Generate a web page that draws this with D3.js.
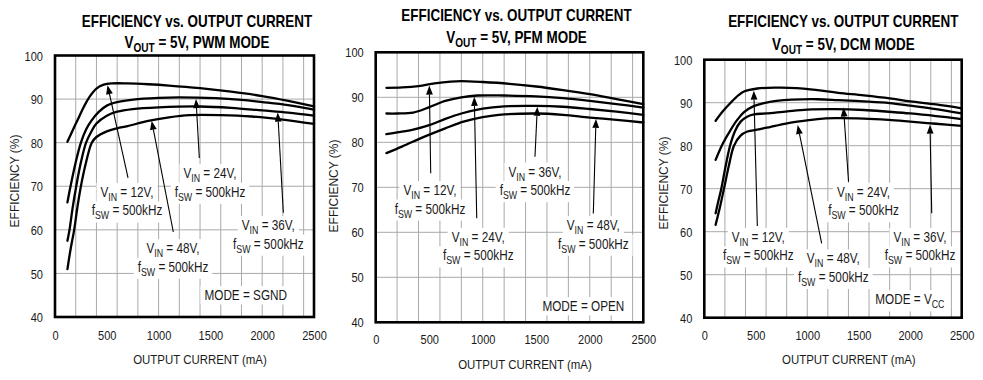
<!DOCTYPE html>
<html><head><meta charset="utf-8">
<script src="https://cdn.jsdelivr.net/npm/d3@7/dist/d3.min.js"></script>
<style>body{margin:0;background:#fff}svg{display:block}</style>
</head><body>
<svg id="c" width="983" height="380"></svg>
<script>
// ---------------- data ----------------
const currentTicks = [0, 500, 1000, 1500, 2000, 2500];
const efficiencyTicks = [40, 50, 60, 70, 80, 90, 100];
const gridCurrents = [200, 400, 600, 800, 1000, 1200, 1400, 1600, 1800, 2000, 2200, 2400];
const vinLabels = ["12V", "24V", "36V", "48V"];
const modeNames = ["PWM", "PFM", "DCM"];
const modePins = ["SGND", "OPEN", "VCC"];

// PWM mode (MODE = SGND): [output current mA, efficiency %]
const pwm12 = [[120,80.2],[170,82.8],[230,85.8],[280,88.3],[330,90.4],[400,92.4],[470,93.3],[550,93.6],[700,93.6],[900,93.4],[1100,93.1],[1400,92.5],[1700,91.7],[2000,90.7],[2250,89.6],[2500,88.3]];
const pwm24 = [[120,66.3],[150,70],[200,75.5],[250,80],[300,83],[350,85],[420,87],[500,88.5],[600,89.3],[700,89.7],[850,90.1],[1000,90.3],[1200,90.4],[1550,90.2],[1800,89.8],[2000,89.3],[2250,88.6],[2500,87.6]];
const pwm36 = [[120,57.5],[140,60],[170,65],[205,70],[250,75.5],[300,80],[350,82.5],[400,84.4],[500,86.2],[600,87.1],[750,87.7],[1000,88.1],[1400,88.3],[1700,88.0],[2000,87.4],[2250,86.9],[2500,86.2]];
const pwm48 = [[120,51],[150,55.5],[185,60],[215,65],[250,70],[300,75.5],[355,80],[400,81.3],[500,82.6],[600,83.3],[700,83.8],[900,85],[1100,85.8],[1300,86.3],[1600,86.3],[1900,86],[2200,85.3],[2500,84.3]];

// PFM mode (MODE = OPEN)
const pfm12 = [[100,92.1],[250,92.2],[400,92.5],[550,93.1],[700,93.5],[800,93.6],[1000,93.4],[1250,93.0],[1500,92.4],[1750,91.6],[2000,90.7],[2250,89.6],[2500,88.5]];
const pfm24 = [[100,86.4],[200,86.4],[350,86.6],[500,87.8],[650,89.2],[800,90.0],[950,90.4],[1200,90.4],[1500,90.2],[1750,89.8],[2000,89.2],[2250,88.5],[2500,87.7]];
const pfm36 = [[100,81.8],[200,82.2],[350,82.8],[500,83.8],[650,85.2],[800,86.4],[1000,87.5],[1200,88.0],[1500,88.1],[1750,87.9],[2000,87.4],[2250,86.8],[2500,86.1]];
const pfm48 = [[100,77.6],[250,79.1],[450,81.2],[650,83.1],[820,84.6],[1000,85.6],[1150,86.1],[1500,86.4],[1750,86.1],[2000,85.5],[2250,85.0],[2500,84.4]];

// DCM mode (MODE = VCC)
const dcm12 = [[110,85.8],[180,88],[256,90],[330,91.7],[386,92.6],[515,93.3],[700,93.5],[900,93.4],[1100,92.9],[1300,92.3],[1550,91.7],[1800,91.0],[2000,90.3],[2250,89.6],[2500,88.7]];
const dcm24 = [[110,76.7],[180,80.5],[256,83.7],[320,86],[386,87.8],[480,89.2],[580,89.9],[700,90.4],[850,90.7],[1100,90.8],[1300,90.6],[1550,90.3],[1800,89.9],[2000,89.3],[2250,88.5],[2500,87.5]];
const dcm36 = [[110,64.3],[140,67.5],[165,70],[205,75],[250,80],[300,83.5],[353,85.6],[420,86.8],[483,87.3],[600,87.5],[806,88.0],[1000,88.4],[1269,88.5],[1550,88.3],[1787,87.9],[2000,87.5],[2250,86.9],[2500,86.2]];
const dcm48 = [[110,61.6],[150,65.5],[191,70],[240,75.5],[288,80],[350,82.3],[418,83.3],[530,83.8],[645,84.4],[780,85.1],[903,85.6],[1100,86.2],[1269,86.4],[1550,86.3],[1787,86.0],[2000,85.6],[2250,85.1],[2500,84.6]];

// annotations in data units: label (first line centre), arrow tail, arrow head
const pwmNotes = [
  {vin:"12V", label:[695,68.7], tail:[705,71.9], head:[507,93.2]},
  {vin:"24V", label:[1496,73.0], tail:[1393,76.5], head:[1361,90.0]},
  {vin:"48V", label:[1139,55.8], tail:[1142,59.5], head:[933,85.0]},
  {vin:"36V", label:[2059,61.1], tail:[2204,63.9], head:[2150,86.9]}
];
const pfmNotes = [
  {vin:"12V", label:[507,69.4], tail:[514,73.1], head:[501,92.6]},
  {vin:"24V", label:[958,59.0], tail:[944,63.1], head:[921,90.1]},
  {vin:"36V", label:[1488,73.5], tail:[1488,76.8], head:[1510,87.9]},
  {vin:"48V", label:[2033,61.6], tail:[2033,64.2], head:[2058,85.2]}
];
const dcmNotes = [
  {vin:"12V", label:[524,58.8], tail:[515,61.3], head:[481,92.8]},
  {vin:"48V", label:[1253,53.8], tail:[1140,57.3], head:[907,84.8]},
  {vin:"24V", label:[1546,69.3], tail:[1401,71.6], head:[1352,88.9]},
  {vin:"36V", label:[2095,58.8], tail:[2209,64.3], head:[2192,84.9]}
];
const modeNotePos = [[1841,45.0],[1940,43.6],[1997,44.3]];

// ---------------- layout ----------------
const FONT = "'Liberation Sans', Arial, Helvetica, sans-serif";
const layout = [
  {l:55, r:314, t:55.5, b:317, titleX:197, t1:26.7, t2:48.3, xtY:340, xtitleX:200, xtitleY:363.7, ytX:18.5, ytY:181},
  {l:375.7, r:643.3, t:52.3, b:322.3, titleX:516.5, t1:20.7, t2:43.3, xtY:344, xtitleX:525, xtitleY:369, ytX:338, ytY:186},
  {l:704.3, r:961.7, t:59.7, b:317.7, titleX:843.3, t1:26.7, t2:50, xtY:340, xtitleX:848.8, xtitleY:364, ytX:668, ytY:183}
];
const series = [[pwm12,pwm24,pwm36,pwm48],[pfm12,pfm24,pfm36,pfm48],[dcm12,dcm24,dcm36,dcm48]];
const notes = [pwmNotes, pfmNotes, dcmNotes];
const TXT = '#1a1a1a';

const svg = d3.select('#c');

function ntext(parent, x, y, sx, size, opts) {
  opts = opts || {};
  const g = parent.append('g').attr('transform', `translate(${x},${y}) ${opts.rotate ? 'rotate(-90) ' : ''}scale(${sx},1)`);
  return g.append('text')
    .attr('text-anchor', opts.anchor || 'middle')
    .style('font-family', FONT)
    .style('font-size', size + 'px')
    .style('font-weight', opts.weight || 'normal')
    .attr('fill', opts.fill || TXT);
}
// parts: array of [string, isSubscript]
function rich(t, parts, size, subSize, shift) {
  let inSub = false;
  parts.forEach(([s, sub]) => {
    const ts = t.append('tspan').text(s);
    if (sub && !inSub) { ts.attr('dy', shift).style('font-size', subSize + 'px'); inSub = true; }
    else if (!sub && inSub) { ts.attr('dy', -shift).style('font-size', size + 'px'); inSub = false; }
  });
  return t;
}
function knockout(layer, t, padX, padY) {
  const r = t.node().getBoundingClientRect();
  const s = svg.node().getBoundingClientRect();
  layer.append('rect')
    .attr('x', r.left - s.left - padX).attr('y', r.top - s.top - padY)
    .attr('width', r.width + 2 * padX).attr('height', r.height + 2 * padY)
    .attr('fill', '#fff');
}

layout.forEach((L, i) => {
  const x = d3.scaleLinear().domain([0, 2500]).range([L.l, L.r]);
  const y = d3.scaleLinear().domain([40, 100]).range([L.b, L.t]);
  const root = svg.append('g');

  // grid
  const grid = root.append('g').attr('stroke', '#a9a9a9').attr('stroke-width', 1);
  grid.selectAll('line.v').data(gridCurrents).join('line')
    .attr('x1', d => x(d)).attr('x2', d => x(d)).attr('y1', L.t).attr('y2', L.b);
  grid.selectAll('line.h').data(efficiencyTicks.slice(1, -1)).join('line')
    .attr('y1', d => y(d)).attr('y2', d => y(d)).attr('x1', L.l).attr('x2', L.r);

  const bg = root.append('g');
  const curveLayer = root.append('g');
  const annLayer = root.append('g');

  // curves
  const line = d3.line().x(d => x(d[0])).y(d => y(d[1])).curve(d3.curveCatmullRom.alpha(0.5));
  curveLayer.selectAll('path').data(series[i]).join('path')
    .attr('d', line).attr('fill', 'none').attr('stroke', '#000')
    .attr('stroke-width', 2.3).attr('stroke-linejoin', 'round').attr('stroke-linecap', 'round');

  // annotations
  notes[i].forEach(n => {
    const cx = x(n.label[0]), cy = y(n.label[1]);
    const t1 = ntext(annLayer, cx, cy + 5, 0.84, 14);
    rich(t1, [["V", false], ["IN", true], [" = " + n.vin + ",", false]], 14, 10.5, 4);
    const t2 = ntext(annLayer, cx, cy + 23.5, 0.84, 14);
    rich(t2, [["f", false], ["SW", true], [" = 500kHz", false]], 14, 10.5, 4);
    knockout(bg, t1, 4, 1);
    knockout(bg, t2, 4, 1);
    const x0 = x(n.tail[0]), y0 = y(n.tail[1]), x1 = x(n.head[0]), y1 = y(n.head[1]);
    const ang = Math.atan2(y1 - y0, x1 - x0);
    const len = 9, hw = 3.4;
    const bx = x1 - len * Math.cos(ang), by = y1 - len * Math.sin(ang);
    annLayer.append('line').attr('x1', x0).attr('y1', y0).attr('x2', bx).attr('y2', by)
      .attr('stroke', '#000').attr('stroke-width', 1.1);
    const px = -Math.sin(ang) * hw, py = Math.cos(ang) * hw;
    annLayer.append('path')
      .attr('d', `M${x1},${y1}L${bx + px},${by + py}L${bx - px},${by - py}Z`)
      .attr('fill', '#000');
  });

  // mode note
  const mp = modeNotePos[i];
  const mt = ntext(annLayer, x(mp[0]), y(mp[1]) + 5, 0.84, 14);
  if (modePins[i] === 'VCC') rich(mt, [["MODE = V", false], ["CC", true]], 14, 10.5, 4);
  else mt.text("MODE = " + modePins[i]);
  knockout(bg, mt, 4, 1);

  // axes
  const sxTick = 0.85;
  const yAxis = root.append('g').attr('transform', `translate(${L.l},0)`)
    .call(d3.axisLeft(y).tickValues(efficiencyTicks).tickSize(0).tickFormat(d3.format('d')));
  yAxis.select('.domain').remove();
  yAxis.selectAll('text').attr('x', -12 / sxTick).attr('dy', '0.36em')
    .attr('transform', `scale(${sxTick},1)`)
    .style('font-family', FONT).style('font-size', '13px').attr('fill', TXT);

  const xAxis = root.append('g').attr('transform', `translate(0,${L.b})`)
    .call(d3.axisBottom(x).tickValues(currentTicks).tickSize(0).tickFormat(d3.format('d')));
  xAxis.select('.domain').remove();
  xAxis.selectAll('text').attr('y', L.xtY - L.b).attr('dy', 0)
    .attr('transform', `scale(${sxTick},1)`)
    .style('font-family', FONT).style('font-size', '13px').attr('fill', TXT);

  // axis titles
  ntext(root, L.xtitleX, L.xtitleY, 0.88, 13).text('OUTPUT CURRENT (mA)');
  ntext(root, L.ytX, L.ytY, 0.92, 13, {rotate:true}).text('EFFICIENCY (%)');

  // titles
  ntext(root, L.titleX, L.t1, 0.84, 16, {weight:'bold', fill:'#000'}).text('EFFICIENCY vs. OUTPUT CURRENT');
  const tt = ntext(root, L.titleX, L.t2, 0.84, 16, {weight:'bold', fill:'#000'});
  rich(tt, [["V", false], ["OUT", true], [" = 5V, " + modeNames[i] + " MODE", false]], 16, 12, 4);

  // frame
  root.append('rect').attr('x', L.l).attr('y', L.t).attr('width', L.r - L.l).attr('height', L.b - L.t)
    .attr('fill', 'none').attr('stroke', '#000').attr('stroke-width', 2.6);
});
</script>
</body></html>
